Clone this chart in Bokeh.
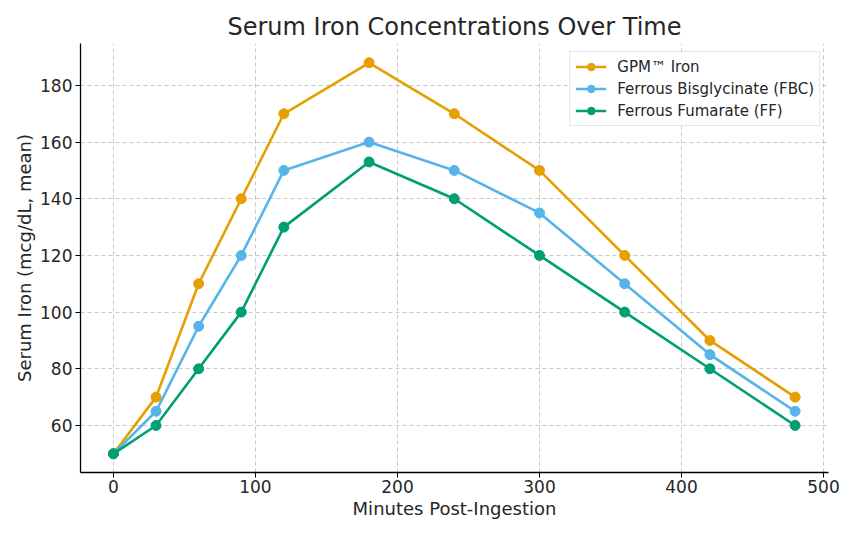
from bokeh.plotting import figure
from bokeh.embed import file_html
from bokeh.resources import INLINE
from bokeh.models import Range1d, FixedTicker, Title, Legend, LegendItem

minutes = [0, 30, 60, 90, 120, 180, 240, 300, 360, 420, 480]
gpm = [50, 70, 110, 140, 170, 188, 170, 150, 120, 90, 70]
fbc = [50, 65, 95, 120, 150, 160, 150, 135, 110, 85, 65]
ff = [50, 60, 80, 100, 130, 153, 140, 120, 100, 80, 60]
series_names = ["GPM™ Iron", "Ferrous Bisglycinate (FBC)", "Ferrous Fumarate (FF)"]
colors = ["#E69F00", "#56B4E9", "#009E73"]
x_ticks = [0, 100, 200, 300, 400, 500]
y_ticks = [60, 80, 100, 120, 140, 160, 180]

FONT = "DejaVu Sans"

p = figure(width=840, height=521, output_backend="svg", toolbar_location=None,
           x_range=Range1d(-23.2, 503.5), y_range=Range1d(43.4, 194.8),
           min_border_left=80, min_border_right=12, min_border_top=43,
           min_border_bottom=46)
p.outline_line_color = None
p.background_fill_color = "white"

t = Title(text="Serum Iron Concentrations Over Time", align="center",
          text_font=FONT, text_font_size="24px", text_font_style="normal",
          text_color="#262626", standoff=6)
p.add_layout(t, "above")

items = []
for vals, name, c in zip([gpm, fbc, ff], series_names, colors):
    l = p.line(minutes, vals, line_color=c, line_width=2.6)
    s = p.scatter(minutes, vals, fill_color=c, line_color=c, size=10)
    items.append(LegendItem(label=name, renderers=[l, s]))

legend = Legend(items=items, location="top_right",
                label_text_font=FONT, label_text_font_size="15px",
                label_text_color="#262626",
                border_line_color="#cccccc", border_line_width=1,
                background_fill_color="white", background_fill_alpha=0.85,
                glyph_width=31, glyph_height=19, label_height=19,
                spacing=3, padding=5, margin=8, label_standoff=11)
p.add_layout(legend)

for ax in [p.xaxis[0], p.yaxis[0]]:
    ax.major_label_text_font = FONT
    ax.major_label_text_font_size = "17px"
    ax.major_label_text_color = "#262626"
    ax.axis_label_text_font = FONT
    ax.axis_label_text_font_size = "18px"
    ax.axis_label_text_font_style = "normal"
    ax.axis_label_text_color = "#262626"
    ax.axis_line_color = "black"
    ax.axis_line_width = 1.3
    ax.major_tick_line_color = "black"
    ax.major_tick_out = 5
    ax.major_tick_in = 0
    ax.minor_tick_line_color = None

p.xaxis[0].major_label_standoff = 2
p.xaxis[0].axis_label_standoff = 2
p.yaxis[0].major_label_standoff = 3
p.yaxis[0].axis_label_standoff = 2

p.xaxis[0].ticker = FixedTicker(ticks=x_ticks)
p.yaxis[0].ticker = FixedTicker(ticks=y_ticks)
p.xaxis[0].axis_label = "Minutes Post-Ingestion"
p.yaxis[0].axis_label = "Serum Iron (mcg/dL, mean)"
p.yaxis[0].major_label_orientation = "horizontal"

p.xgrid.ticker = FixedTicker(ticks=x_ticks)
p.ygrid.ticker = FixedTicker(ticks=y_ticks)
for g in [p.xgrid[0], p.ygrid[0]]:
    g.grid_line_color = "#b0b0b0"
    g.grid_line_alpha = 0.7
    g.grid_line_dash = "4 3"
    g.grid_line_width = 1

open("out.html", "w").write(file_html(p, INLINE))
